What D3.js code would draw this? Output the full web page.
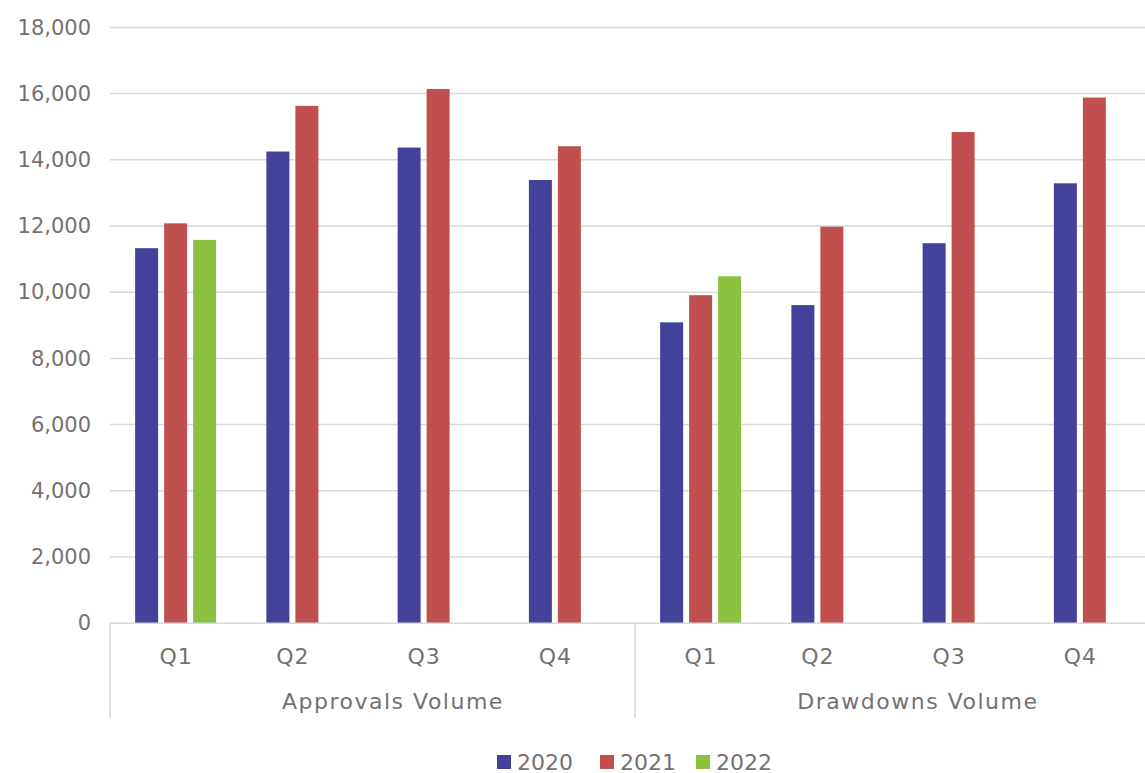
<!DOCTYPE html>
<html>
<head>
<meta charset="utf-8">
<script src="https://cdn.jsdelivr.net/npm/d3@7/dist/d3.min.js"></script>
<style>
  html, body { margin: 0; padding: 0; background: #ffffff; }
  svg { display: block; }
  text { font-family: "DejaVu Sans", "Open Sans", sans-serif; fill: #767171; }
</style>
</head>
<body>
<svg id="chart" width="1145" height="773"></svg>
<script>
// Quarterly volumes, grouped by measure, one bar per year
const groups = ["Approvals Volume", "Drawdowns Volume"];
const quarters = ["Q1", "Q2", "Q3", "Q4"];
const years = ["2020", "2021", "2022"];

const approvals2020 = [11330, 14250, 14370, 13390];
const approvals2021 = [12080, 15630, 16140, 14410];
const approvals2022 = [11580, null, null, null];

const drawdowns2020 = [9090, 9610, 11480, 13290];
const drawdowns2021 = [9910, 11980, 14840, 15880];
const drawdowns2022 = [10480, null, null, null];

const yTicks = [0, 2000, 4000, 6000, 8000, 10000, 12000, 14000, 16000, 18000];
const colors = ["#43419A", "#C0504D", "#8BC041"];

const seriesByGroup = {
  "Approvals Volume": [approvals2020, approvals2021, approvals2022],
  "Drawdowns Volume": [drawdowns2020, drawdowns2021, drawdowns2022]
};

// Flatten into one category per (group, quarter)
const cats = [];
groups.forEach(g => quarters.forEach((q, qi) => {
  cats.push({
    key: g + "|" + q, group: g, quarter: q,
    values: years.map((y, yi) => ({ year: y, yi, value: seriesByGroup[g][yi][qi] }))
  });
}));

const svg = d3.select("#chart");
const plotLeft = 110, plotRight = 1160, plotTop = 27.4, plotBottom = 623.2;

const x = d3.scaleBand().domain(cats.map(c => c.key)).range([plotLeft, plotRight]).padding(0);
const cw = x.bandwidth();
// bar width 23, spacing 29 within each category
const step = 29, inner = 6 / 29;
const outer = (cw / step - years.length + inner) / 2;
const xs = d3.scaleBand().domain(years).range([0, cw]).paddingInner(inner).paddingOuter(outer);
const y = d3.scaleLinear().domain([0, 18000]).range([plotBottom, plotTop]);

// horizontal gridlines
svg.append("g").selectAll("line").data(yTicks.filter(t => t > 0)).join("line")
  .attr("x1", plotLeft).attr("x2", plotRight)
  .attr("y1", d => y(d)).attr("y2", d => y(d))
  .attr("stroke", "#d9d9d9").attr("stroke-width", 1.5);

// y axis labels
const yAxis = d3.axisLeft(y).tickValues(yTicks).tickSize(0).tickPadding(19)
  .tickFormat(d3.format(","));
const yg = svg.append("g").attr("transform", `translate(${plotLeft},0)`).call(yAxis);
yg.select(".domain").remove();
yg.attr("font-family", null).attr("font-size", null);
yg.selectAll("text").style("font-size", "21px").attr("fill", "#767171");

// bars
const catG = svg.append("g").selectAll("g").data(cats).join("g")
  .attr("transform", d => `translate(${x(d.key)},0)`);
catG.selectAll("rect").data(d => d.values.filter(v => v.value != null)).join("rect")
  .attr("x", d => xs(d.year))
  .attr("width", xs.bandwidth())
  .attr("y", d => y(d.value))
  .attr("height", d => y(0) - y(d.value))
  .attr("fill", d => colors[d.yi]);

// category axis baseline
svg.append("line").attr("x1", plotLeft).attr("x2", plotRight)
  .attr("y1", plotBottom).attr("y2", plotBottom)
  .attr("stroke", "#d9d9d9").attr("stroke-width", 1.5);

// group separators
const groupEdges = groups.map(g => x(g + "|" + quarters[0])).concat([plotRight]);
svg.append("g").selectAll("line").data(groupEdges).join("line")
  .attr("x1", d => d).attr("x2", d => d)
  .attr("y1", plotBottom).attr("y2", 718)
  .attr("stroke", "#d9d9d9").attr("stroke-width", 1.5);

// quarter labels centred on the bars present in each category
svg.append("g").selectAll("text").data(cats).join("text")
  .attr("x", d => {
    const present = d.values.filter(v => v.value != null);
    return x(d.key) + d3.mean(present, v => xs(v.year) + xs.bandwidth() / 2) + 0.5;
  })
  .attr("y", 664)
  .attr("text-anchor", "middle")
  .style("font-size", "22px")
  .style("letter-spacing", "1px")
  .text(d => d.quarter);

// group labels
svg.append("g").selectAll("text").data(groups).join("text")
  .attr("x", g => x(g + "|" + quarters[0]) + 4 * cw * 0.537 + 1)
  .attr("y", 709)
  .attr("text-anchor", "middle")
  .style("font-size", "22px")
  .style("letter-spacing", "1.5px")
  .text(g => g);

// legend
const legendX = [497, 600, 696];
const lg = svg.append("g").selectAll("g").data(years).join("g")
  .attr("transform", (d, i) => `translate(${legendX[i]},755)`);
lg.append("rect").attr("width", 14).attr("height", 14)
  .attr("fill", (d, i) => colors[i]);
lg.append("text").attr("x", 20).attr("y", 14.5)
  .style("font-size", "22px")
  .text(d => d);
</script>
</body>
</html>
